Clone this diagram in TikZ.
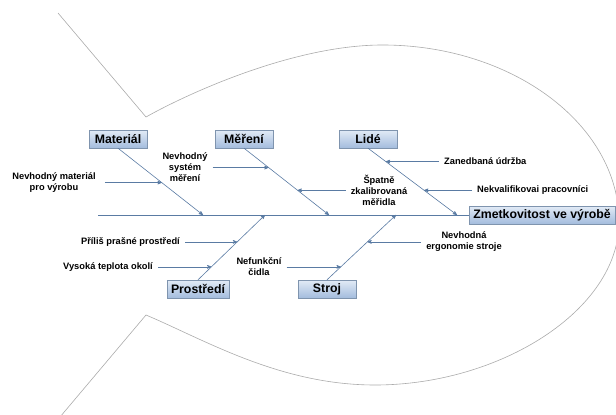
\documentclass[tikz,border=0pt]{standalone}
\usepackage{fontspec}
\setmainfont{Liberation Sans}
\usepackage{tikz}
\usetikzlibrary{calc}
\usetikzlibrary{arrows}
\usetikzlibrary{shadows}
\definecolor{bonecol}{HTML}{5A7BA3}
\definecolor{boxtop}{HTML}{E2EBF6}
\definecolor{boxbot}{HTML}{A3BCDD}
\definecolor{boxline}{HTML}{7F94AE}
\definecolor{fishcol}{HTML}{ABABAB}
\tikzset{
  box/.style={draw=boxline, top color=boxtop, bottom color=boxbot, minimum width=58pt,
    minimum height=18pt, inner xsep=4pt, inner ysep=1pt,
    font=\bfseries\fontsize{12.3}{14}\selectfont,
    drop shadow={shadow xshift=1.2pt, shadow yshift=-1.2pt, opacity=.35}},
  cause/.style={align=center, inner sep=1pt, font=\bfseries\fontsize{9.3}{11}\selectfont},
  bone/.style={bonecol, line width=.6pt, -stealth', >=stealth'},
  sub/.style={bonecol, line width=.6pt, -stealth', shorten <=4pt},
  fish/.style={fishcol, line width=.6pt}
}

\begin{document}
\begin{tikzpicture}[x=1pt, y=-1pt]
\useasboundingbox (0,0) rectangle (616,415);
% fish outline
\draw[fish] (58,13)--(146,117)
  .. controls (185,95) and (290,46) .. (380,45)
  .. controls (511,44) and (619,124) .. (619,222)
  .. controls (619,310) and (500,385) .. (375,385)
  .. controls (280,385) and (205,340) .. (146,315)--(60,417);

% effect and spine
\node[box] (effect) at (542,215) {Zmetkovitost ve výrobě};
\draw[bonecol, line width=.6pt] (98,215)--(effect.west);

% categories
\node[box] (material) at (118,139) {Materiál};
\node[box] (mereni) at (244,139) {Měření};
\node[box] (lide) at (368,139) {Lidé};
\node[box] (prostredi) at (198,289) {Prostředí};
\node[box] (stroj) at (327,289) {Stroj};

\coordinate (s1) at (203,215);
\coordinate (s2) at (329,215);
\coordinate (s3) at (457,215);
\coordinate (s4) at (265,215);
\coordinate (s5) at (396,215);
\draw[bone] (material.south)--(s1);
\draw[bone] (mereni.south)--(s2);
\draw[bone] (lide.south)--(s3);
\draw[bone] (prostredi.north)--(s4);
\draw[bone] (stroj.north)--(s5);

% points on the bones
\coordinate (p1) at ($(material.south)!.515!(s1)$);
\coordinate (p2) at ($(mereni.south)!.29!(s2)$);
\coordinate (p3) at ($(mereni.south)!.63!(s2)$);
\coordinate (p4) at ($(lide.south)!.2!(s3)$);
\coordinate (p5) at ($(lide.south)!.63!(s3)$);
\coordinate (p6) at ($(prostredi.north)!.585!(s4)$);
\coordinate (p7) at ($(prostredi.north)!.2!(s4)$);
\coordinate (p8) at ($(stroj.north)!.2!(s5)$);
\coordinate (p9) at ($(stroj.north)!.585!(s5)$);

% causes
\node[cause] (c1) at (54,0 |- p1) {Nevhodný materiál\\pro výrobu};
\node[cause] (c2) at (185,0 |- p2) {Nevhodný\\systém\\měření};
\node[cause] (c3) at (379,0 |- p3) {Špatně\\zkalibrovaná\\měřidla};
\node[cause, anchor=west] (c4) at (443,0 |- p4) {Zanedbaná údržba};
\node[cause, anchor=west] (c5) at (476,0 |- p5) {Nekvalifikovai pracovníci};
\node[cause, anchor=east] (c6) at (181,0 |- p6) {Příliš prašné prostředí};
\node[cause, anchor=east] (c7) at (154,0 |- p7) {Vysoká teplota okolí};
\node[cause] (c8) at (259,0 |- p8) {Nefunkční\\čidla};
\node[cause] (c9) at (464,0 |- p9) {Nevhodná\\ergonomie stroje};

\draw[sub, shorten <=8pt] (c1)--(p1);
\foreach \i in {2,...,9} {
  \draw[sub] (c\i)--(p\i);
}
\end{tikzpicture}
\end{document}
